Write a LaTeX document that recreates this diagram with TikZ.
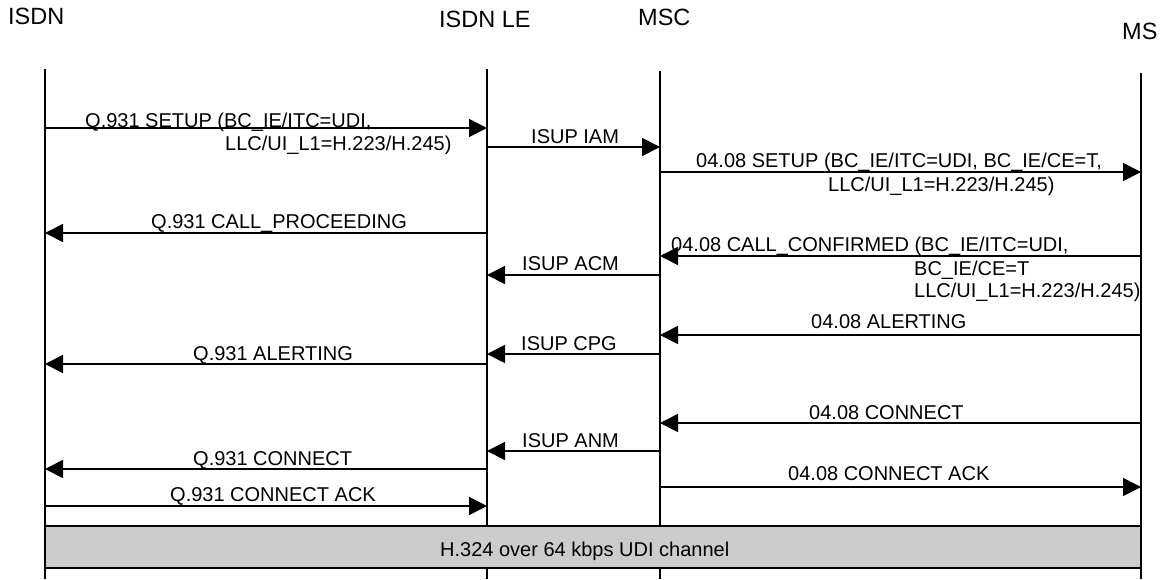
\documentclass[tikz,border=0pt]{standalone}
\usepackage{fontspec}
\setmainfont{Liberation Sans}
\usetikzlibrary{arrows.meta}
\definecolor{chgray}{RGB}{204,204,204}
\tikzset{
  lifeline/.style={line width=1.7pt},
  msg/.style={line width=1.7pt, -{Triangle[length=18pt,width=18pt]}},
  lbl/.style={anchor=base west, inner sep=0pt, font=\fontsize{20}{24}\selectfont},
  head/.style={anchor=base west, inner sep=0pt, font=\fontsize{23.5}{28}\selectfont},
  chan/.style={draw, line width=1.7pt, fill=chgray}
}
\begin{document}
\begin{tikzpicture}[x=1pt, y=-1pt]
\useasboundingbox (0,0) rectangle (1164,579);

% entity headings
\node[head] (hIsdn) at (8,24)    {ISDN};
\node[head] (hLe)   at (439,27)  {ISDN LE};
\node[head] (hMsc)  at (638,25)  {MSC};
\node[head] (hMs)   at (1122,39) {MS};

% lifeline ends
\coordinate (isdnT) at (45,69);   \coordinate (isdnB) at (45,579);
\coordinate (leT)   at (487,69);  \coordinate (leB)   at (487,579);
\coordinate (mscT)  at (660,71);  \coordinate (mscB)  at (660,579);
\coordinate (msT)   at (1141,73); \coordinate (msB)   at (1141,579);

\draw[lifeline] (isdnT) -- (isdnB);
\draw[lifeline] (leT) -- (leB);
\draw[lifeline] (mscT) -- (mscB);
\draw[lifeline] (msT) -- (msB);

% call setup
\draw[msg] (isdnT |- 0,128) -- (leT |- 0,128);
\node[lbl] (tSetupA) at (85,127) {Q.931 SETUP (BC\_IE/ITC=UDI,};
\node[lbl] (tSetupB) at (225,150) {LLC/UI\_L1=H.223/H.245)};

\draw[msg] (leT |- 0,147) -- (mscT |- 0,147);
\node[lbl] (tIam) at (531,143) {ISUP IAM};

\draw[msg] (mscT |- 0,172) -- (msT |- 0,172);
\node[lbl] (tMsSetupA) at (696,167) {04.08 SETUP (BC\_IE/ITC=UDI, BC\_IE/CE=T,};
\node[lbl] (tMsSetupB) at (828,191) {LLC/UI\_L1=H.223/H.245)};

\draw[msg] (leT |- 0,233) -- (isdnT |- 0,233);
\node[lbl] (tProc) at (151,228) {Q.931 CALL\_PROCEEDING};

\draw[msg] (msT |- 0,256) -- (mscT |- 0,256);
\node[lbl] (tConfA) at (671,251) {04.08 CALL\_CONFIRMED (BC\_IE/ITC=UDI,};
\node[lbl] (tConfB) at (914,275) {BC\_IE/CE=T};
\node[lbl] (tConfC) at (914,297) {LLC/UI\_L1=H.223/H.245)};

\draw[msg] (mscT |- 0,275) -- (leT |- 0,275);
\node[lbl] (tAcm) at (522,270) {ISUP ACM};

% alerting
\draw[msg] (msT |- 0,335) -- (mscT |- 0,335);
\node[lbl] (tMsAlert) at (811,328) {04.08 ALERTING};

\draw[msg] (mscT |- 0,354) -- (leT |- 0,354);
\node[lbl] (tCpg) at (521,350) {ISUP CPG};

\draw[msg] (leT |- 0,364) -- (isdnT |- 0,364);
\node[lbl] (tAlert) at (193,360) {Q.931 ALERTING};

% connect
\draw[msg] (msT |- 0,423) -- (mscT |- 0,423);
\node[lbl] (tMsConn) at (809,419) {04.08 CONNECT};

\draw[msg] (mscT |- 0,451) -- (leT |- 0,451);
\node[lbl] (tAnm) at (522,447) {ISUP ANM};

\draw[msg] (leT |- 0,469) -- (isdnT |- 0,469);
\node[lbl] (tConn) at (193,465) {Q.931 CONNECT};

\draw[msg] (mscT |- 0,487) -- (msT |- 0,487);
\node[lbl] (tMsAck) at (788,480) {04.08 CONNECT ACK};

\draw[msg] (isdnT |- 0,506) -- (leT |- 0,506);
\node[lbl] (tAck) at (170,501) {Q.931 CONNECT ACK};

% bearer channel
\draw[chan] (isdnT |- 0,526) rectangle (msT |- 0,568);
\node[lbl] (tChan) at (440,556) {H.324 over 64 kbps UDI channel};
\end{tikzpicture}
\end{document}
